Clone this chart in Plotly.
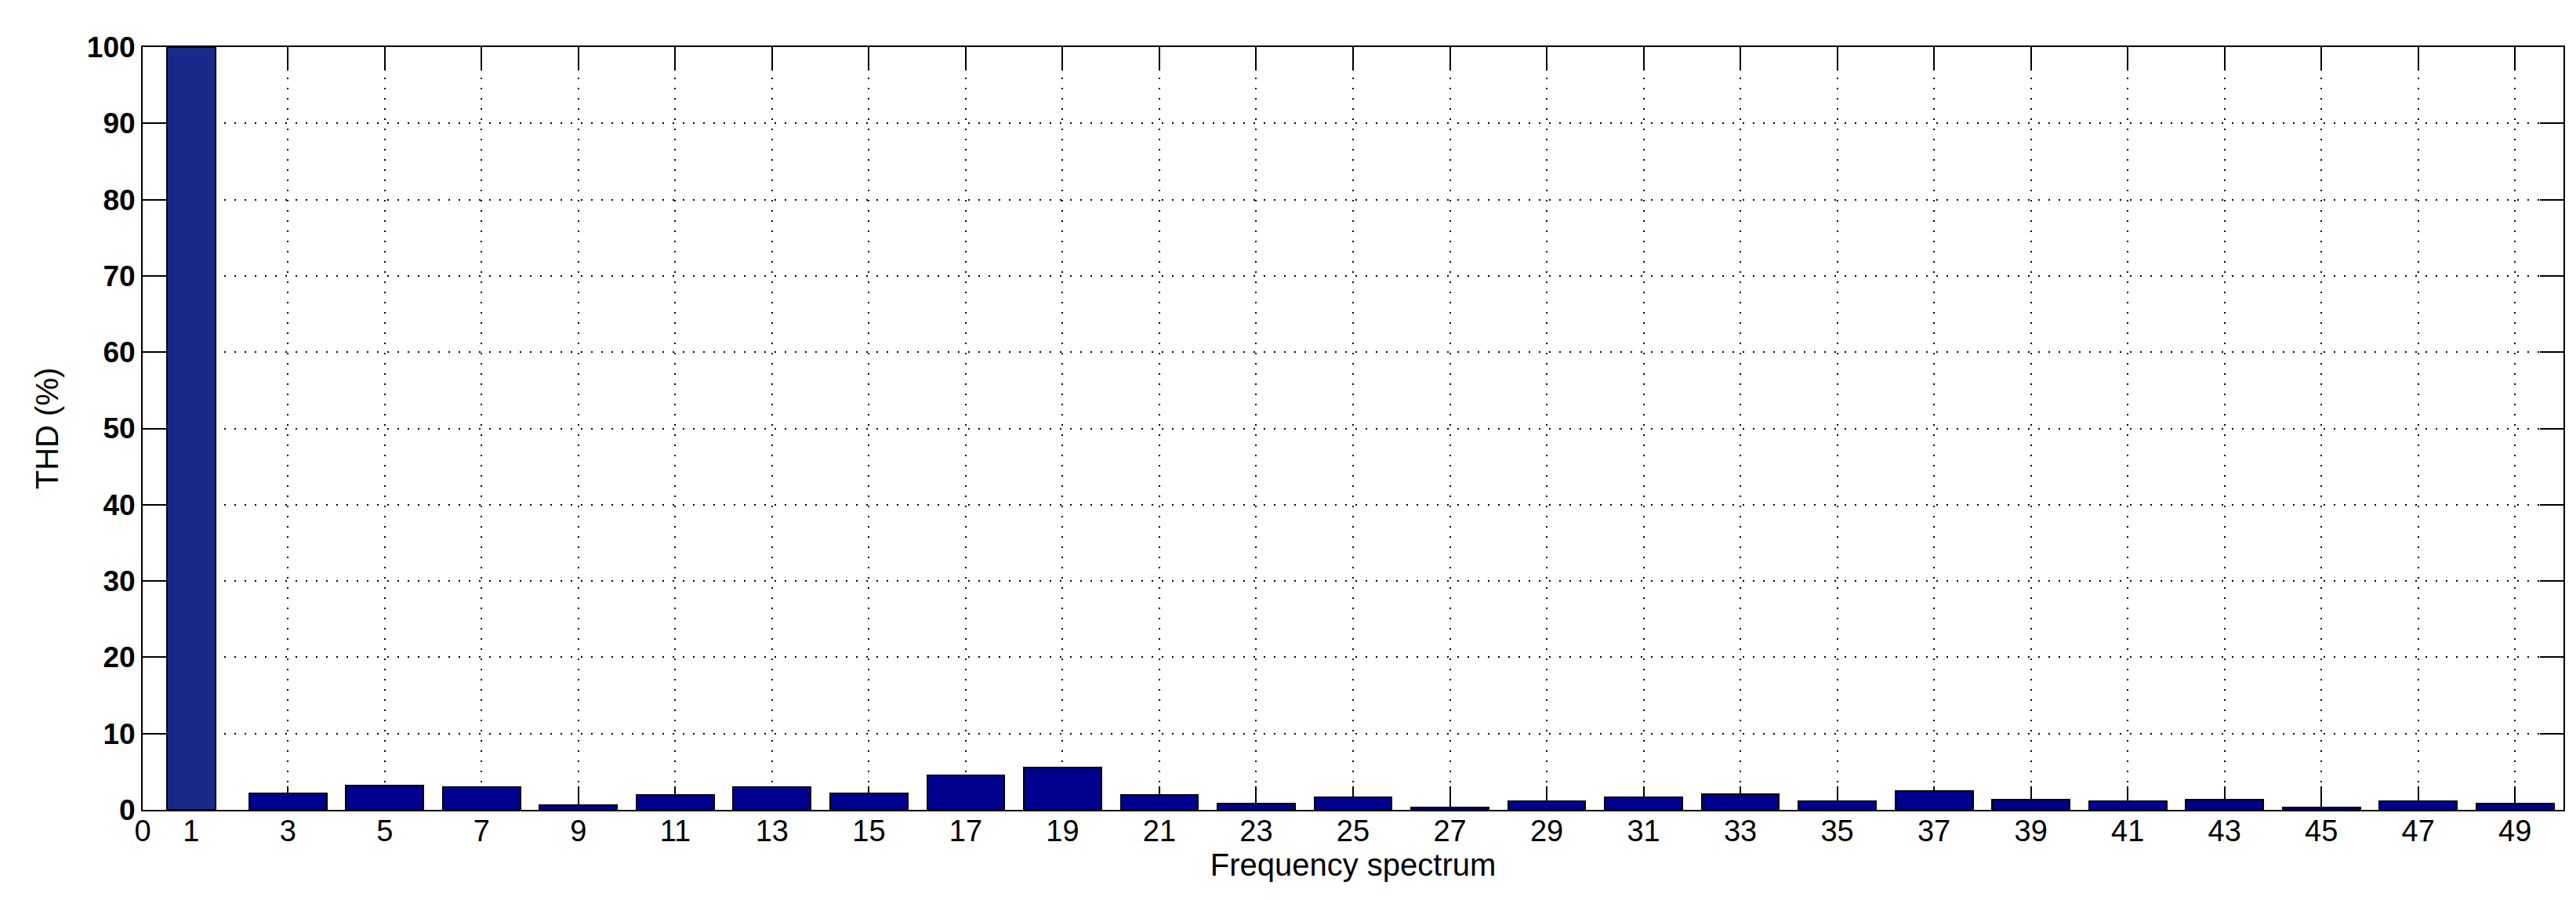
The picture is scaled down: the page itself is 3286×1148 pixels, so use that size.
"""THD frequency spectrum bar chart"""

import plotly.graph_objects as go

# harmonic orders and their magnitude (% of fundamental)
fundamental_order = [1]
fundamental_thd = [100]

harmonic_orders = [3, 5, 7, 9, 11, 13, 15, 17, 19, 21, 23, 25,
                   27, 29, 31, 33, 35, 37, 39, 41, 43, 45, 47, 49]
harmonic_thd = [2.14, 3.2, 2.95, 0.58, 1.93, 2.95, 2.14, 4.54, 5.59, 1.93, 0.85, 1.63,
                0.3, 1.1, 1.63, 2.1, 1.1, 2.43, 1.33, 1.1, 1.33, 0.3, 1.08, 0.85]

x_ticks = [0, 1, 3, 5, 7, 9, 11, 13, 15, 17, 19, 21, 23, 25,
           27, 29, 31, 33, 35, 37, 39, 41, 43, 45, 47, 49]
y_ticks = [0, 10, 20, 30, 40, 50, 60, 70, 80, 90, 100]

FONT = "Arial, Liberation Sans, Helvetica, sans-serif"

fig = go.Figure()

# fundamental drawn on its own (narrower, slightly lighter blue)
fig.add_trace(go.Bar(x=fundamental_order, y=fundamental_thd, width=1.0,
                     marker=dict(color="#172a8a", line=dict(color="black", width=2)),
                     showlegend=False))

# odd harmonics
fig.add_trace(go.Bar(x=harmonic_orders, y=harmonic_thd, width=1.6,
                     marker=dict(color="#00008f", line=dict(color="black", width=2)),
                     showlegend=False))

axis_common = dict(
    showline=True, linecolor="black", linewidth=2, mirror="ticks",
    ticks="inside", ticklen=30, tickwidth=2, tickcolor="black",
    showgrid=True, gridcolor="black", gridwidth=2, griddash="2px,11px",
    zeroline=False, layer="below traces", automargin=False,
)

fig.update_xaxes(range=[0, 50], tickmode="array", tickvals=x_ticks,
                 ticktext=[str(t) for t in x_ticks], ticklabelstandoff=-8,
                 tickfont=dict(family=FONT, size=38, color="black"),
                 title=dict(text="Frequency spectrum", standoff=3,
                            font=dict(family=FONT, size=40, color="black")),
                 **axis_common)

fig.update_yaxes(range=[0, 100], tickmode="array", tickvals=y_ticks,
                 tickfont=dict(family=FONT, size=37, color="black", weight="bold"),
                 title=dict(text="THD (%)", standoff=24,
                            font=dict(family=FONT, size=40, color="black")),
                 **axis_common)

fig.update_layout(
    width=3286, height=1148,
    margin=dict(l=174, r=24, t=52, b=123),
    paper_bgcolor="white", plot_bgcolor="white",
    barmode="overlay", bargap=0,
)

fig.write_html("out.html")
